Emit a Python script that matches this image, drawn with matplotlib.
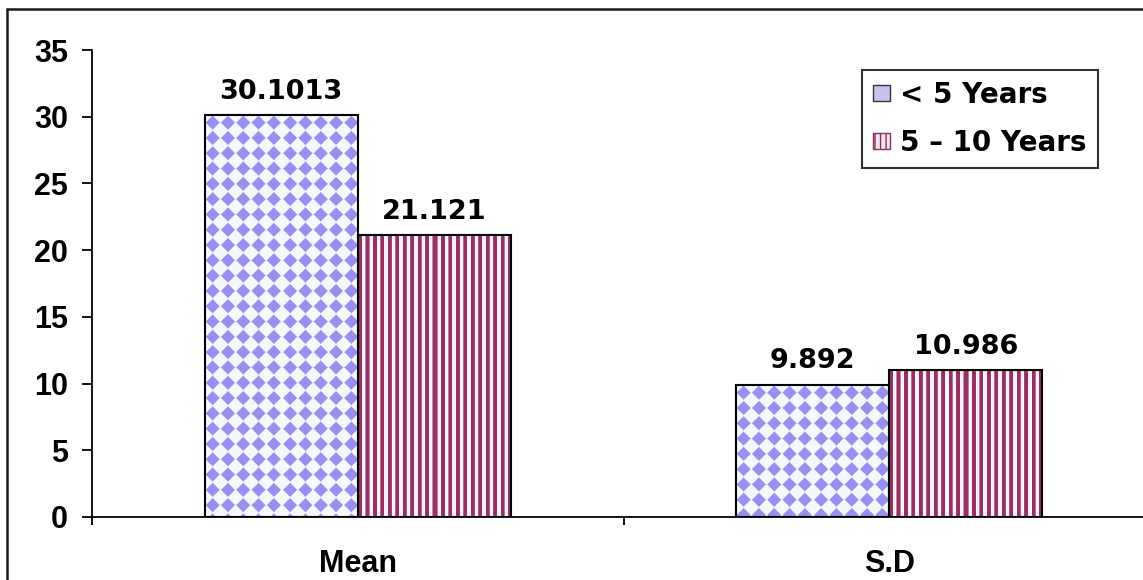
import matplotlib
matplotlib.use("Agg")
import matplotlib.pyplot as plt
import numpy as np
from matplotlib.patches import Patch, Rectangle

plt.rcParams["font.family"] = "Liberation Sans"
plt.rcParams["font.weight"] = "bold"

categories = ["Mean", "S.D"]
series_names = ["< 5 Years", "5 \u2013 10 Years"]
under_5 = [30.1013, 9.892]
five_to_10 = [21.121, 10.986]
value_labels = [["30.1013", "9.892"], ["21.121", "10.986"]]
y_ticks = [0, 5, 10, 15, 20, 25, 30, 35]

FW, FH, DPI = 1143, 580, 100


def diamond_img(w, h, s=15.3):
    # purple diamond checker like the old office fill
    yy, xx = np.mgrid[0:h, 0:w] + 0.5
    u = (xx / s) % 1 - 0.5
    v = (yy / s) % 1 - 0.5
    d = np.abs(u) + np.abs(v)
    a = np.clip((0.46 - d) * s / 1.5 + 0.5, 0, 1)[..., None]
    bg = np.array([247, 247, 255]) / 255
    fg = np.array([150, 145, 238]) / 255
    return bg * (1 - a) + fg * a


def stripe_img(w, h, p=7.45):
    yy, xx = np.mgrid[0:h, 0:w] + 0.5
    t = (xx / p) % 1
    a = np.clip(np.minimum(t, 0.55 - t) * p + 0.5, 0, 1)
    a = np.where(t < 0.55, a, 0)[..., None]
    bg = np.array([253, 240, 250]) / 255
    fg = np.array([148, 50, 98]) / 255
    return bg * (1 - a) + fg * a


fig = plt.figure(figsize=(FW / DPI, FH / DPI), dpi=DPI)
ax = fig.add_axes([92 / FW, 1 - 517 / FH, (1155 - 92) / FW, (517 - 50) / FH])
ax.set_xlim(-0.5, 1.5)
ax.set_ylim(0, 35)

x = np.arange(len(categories))
w = 0.288
b1 = ax.bar(x - w / 2, under_5, w, facecolor="none", edgecolor="black", lw=1.5, zorder=3)
b2 = ax.bar(x + w / 2, five_to_10, w, facecolor="none", edgecolor="black", lw=1.5, zorder=3)

for bars, maker in [(b1, diamond_img), (b2, stripe_img)]:
    for bar in bars:
        x0, x1 = bar.get_x(), bar.get_x() + bar.get_width()
        h = bar.get_height()
        (px0, py0), (px1, py1) = ax.transData.transform([(x0, 0), (x1, h)])
        img = maker(int(round(px1 - px0)), int(round(py1 - py0)))
        im = ax.imshow(img, extent=(x0, x1, 0, h), aspect="auto",
                       interpolation="nearest", zorder=2)
        im.set_clip_path(bar)

for bars, labs in [(b1, value_labels[0]), (b2, value_labels[1])]:
    for bar, lab in zip(bars, labs):
        ax.annotate(lab, (bar.get_x() + bar.get_width() / 2, bar.get_height()),
                    xytext=(0, 12), textcoords="offset points",
                    ha="center", va="baseline", fontsize=19.5, fontweight="bold",
                    family="DejaVu Sans")

for s in ["top", "right"]:
    ax.spines[s].set_visible(False)
for s in ["left", "bottom"]:
    ax.spines[s].set_linewidth(1.3)

ax.set_yticks(y_ticks)
ax.tick_params(axis="y", direction="out", length=7.2, width=1.3, pad=10, labelsize=22)
ax.set_xticks([-0.5, 0.5, 1.5])
ax.set_xticklabels([])
ax.tick_params(axis="x", which="major", direction="out", length=6, width=1.3)
ax.set_xticks(x, minor=True)
ax.set_xticklabels(categories, minor=True, fontsize=22, fontweight="bold")
ax.tick_params(axis="x", which="minor", length=0, pad=23)

handles = [Patch(facecolor="#c6c3f2", edgecolor="#333333", lw=1),
           Patch(facecolor="#f7e6f1", edgecolor="#8d2f5d", hatch="|||", lw=1)]
leg = fig.legend(handles, series_names, loc="upper left",
                 bbox_to_anchor=(862 / FW, 1 - 70 / FH), bbox_transform=fig.transFigure,
                 borderaxespad=0, prop={"family": "DejaVu Sans", "weight": "bold", "size": 20},
                 frameon=True, fancybox=False,
                 handlelength=0.62, handleheight=0.5, handletextpad=0.36,
                 labelspacing=0.72, borderpad=0.4)
leg.get_frame().set_edgecolor("black")
leg.get_frame().set_linewidth(1.5)

# outer chart-area border (cut off at right and bottom)
fig.add_artist(Rectangle((7 / FW, -0.05), 1.1, 1 - 9 / FH + 0.05,
                         transform=fig.transFigure, fill=False,
                         edgecolor="#1a1a1a", lw=1.8))

fig.savefig("out.png", dpi=DPI)
